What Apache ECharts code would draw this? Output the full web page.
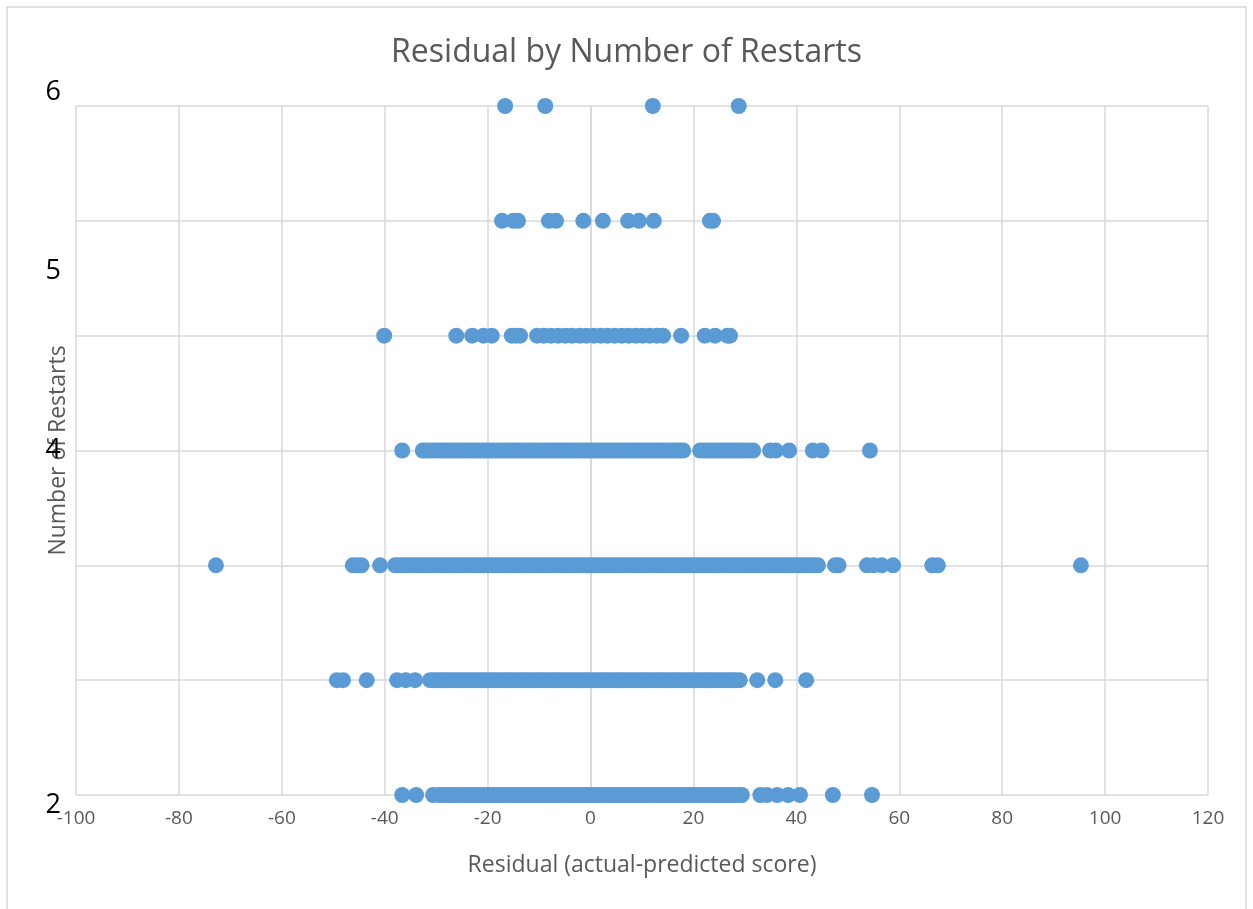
<!DOCTYPE html>
<html>
<head>
<meta charset="utf-8">
<script src="https://cdn.jsdelivr.net/npm/echarts@6/dist/echarts.min.js"></script>
<style>
  html, body { margin: 0; padding: 0; background: #fff; }
  #chart { width: 1253px; height: 909px; }
</style>
</head>
<body>
<div id="chart"></div>
<script>
// residuals per restart count
const restarts0 = [-36.6, -33.9, -30.6,
  -29.5, -28.9, -28.2, -27.6, -26.9, -26.3, -25.5, -24.9, -24.2, -23.5, -22.9, -22.2, -21.6, -20.8, -20.1, -19.5,
  -18.8, -18.1, -17.5, -16.8, -16.2, -15.4, -14.8, -14.1, -13.5, -12.8, -12.1, -11.5, -10.8, -10.2, -9.5, -8.8,
  -8.2, -7.5, -6.9, -6.1, -5.5, -4.8, -4.2, -3.5, -2.8, -2.2, -1.5, -0.9, -0.2, 0.5, 1.1, 1.8, 2.4, 3.1, 3.8, 4.4,
  5.1, 5.7, 6.4, 7.1, 7.7, 8.4, 9.0, 9.7, 10.4, 11.0, 11.7, 12.3, 13.0, 13.7, 14.3, 15.0, 15.6, 16.3, 17.0, 17.6,
  18.3, 18.9, 19.6, 20.3, 20.9, 21.6, 22.2, 22.9, 23.6, 24.2, 24.9, 25.5, 26.2, 26.9, 27.5, 28.2, 28.8, 29.4,
  33.0, 34.3, 36.3, 38.4, 40.7, 47.1, 54.7];
const restarts1 = [-49.3, -48.1, -43.5, -37.6, -35.9, -34.1,
  -31.2, -30.5, -29.9, -29.2, -28.6, -27.9, -27.2, -26.6, -25.9, -25.3, -24.6, -23.9, -23.3, -22.6, -22.0, -21.3,
  -20.6, -20.0, -19.3, -18.7, -18.0, -17.3, -16.7, -16.0, -15.4, -14.7, -14.0, -13.4, -12.7, -12.1, -11.4, -10.7,
  -10.1, -9.4, -8.8, -8.1, -7.4, -6.8, -6.1, -5.5, -4.8, -4.1, -3.5, -2.8, -2.2, -1.5, -0.8, -0.2, 0.5, 1.1, 1.8,
  2.5, 3.1, 3.8, 4.4, 5.1, 5.8, 6.4, 7.1, 7.7, 8.4, 9.1, 9.7, 10.4, 11.0, 11.7, 12.4, 13.0, 13.7, 14.3, 15.0, 15.7,
  16.3, 17.0, 17.6, 18.3, 19.0, 19.6, 20.3, 20.9, 21.6, 22.3, 22.9, 23.6, 24.2, 24.9, 25.6, 26.2, 26.9, 27.5, 28.2,
  29.0, 32.4, 35.9, 41.9];
const restarts2 = [-72.8, -46.2, -45.4, -44.5, -40.9,
  -38.0, -37.3, -36.6, -36.0, -35.3, -34.6, -34.0, -33.3, -32.6, -32.0, -31.3, -30.6, -30.0, -29.3, -28.6, -28.0,
  -27.3, -26.6, -26.0, -25.3, -24.6, -24.0, -23.3, -22.6, -22.0, -21.3, -20.6, -20.0, -19.3, -18.6, -18.0, -17.3,
  -16.6, -16.0, -15.3, -14.6, -14.0, -13.3, -12.6, -12.0, -11.3, -10.6, -10.0, -9.3, -8.6, -8.0, -7.3, -6.6, -6.0,
  -5.3, -4.6, -4.0, -3.3, -2.6, -2.0, -1.3, -0.6, 0.0, 0.7, 1.4, 2.0, 2.7, 3.4, 4.0, 4.7, 5.4, 6.0, 6.7, 7.4, 8.0,
  8.7, 9.4, 10.0, 10.7, 11.4, 12.0, 12.7, 13.4, 14.0, 14.7, 15.4, 16.0, 16.7, 17.4, 18.0, 18.7, 19.4, 20.0, 20.7,
  21.4, 22.0, 22.7, 23.4, 24.0, 24.7, 25.4, 26.0, 26.7, 27.4, 28.0, 28.7, 29.4, 30.0, 30.7, 31.4, 32.0, 32.7, 33.4,
  34.0, 34.7, 35.4, 36.0, 36.7, 37.4, 38.0, 38.7, 39.4, 40.0, 40.7, 41.4, 42.0, 42.7, 43.4, 44.2,
  47.5, 48.2, 53.7, 55.0, 56.6, 58.8, 66.4, 67.5, 95.3];
const restarts3 = [-36.6,
  -32.6, -31.9, -31.2, -30.6, -29.9, -29.2, -28.6, -27.9, -27.2, -26.6, -25.9, -25.2, -24.6, -23.9, -23.2, -22.6,
  -21.9, -21.2, -20.6, -19.9, -19.2, -18.6, -17.9, -17.2, -16.6, -15.9, -15.2, -14.6, -13.9, -13.2, -12.6, -11.9,
  -11.2, -10.6, -9.9, -9.2, -8.6, -7.9, -7.2, -6.6, -5.9, -5.2, -4.6, -3.9, -3.2, -2.6, -1.9, -1.2, -0.6, 0.1, 0.8,
  1.4, 2.1, 2.8, 3.4, 4.1, 4.8, 5.4, 6.1, 6.8, 7.4, 8.1, 8.8, 9.4, 10.1, 10.8, 11.4, 12.1, 12.8, 13.4, 14.1, 14.8,
  15.4, 16.1, 16.8, 17.4, 18.0,
  21.3, 22.0, 22.7, 23.4, 24.0, 24.7, 25.4, 26.0, 26.7, 27.4, 28.0, 28.7, 29.4, 30.0, 30.8, 31.6,
  34.9, 36.0, 38.6, 43.2, 44.9, 54.3];
const restarts4 = [-40.1, -26.1, -23.0, -20.8, -19.2, -15.3, -14.5, -13.7, -10.4, -9.1, -7.7, -6.3, -4.9, -3.6, -2.1,
  -0.8, 0.6, 2.0, 3.3, 4.7, 6.1, 7.4, 8.8, 10.1, 11.5, 12.9, 14.1, 17.6, 22.2, 24.2, 26.6, 27.1];
const restarts5 = [-17.2, -15.0, -14.1, -8.1, -6.7, -1.4, 2.4, 7.3, 9.4, 12.3, 23.2, 23.8];
const restarts6 = [-16.6, -8.8, 12.1, 28.8];
const rows = [restarts0, restarts1, restarts2, restarts3, restarts4, restarts5, restarts6];

// the loose y labels that sit on the left edge, and the level each one sits at
const yTickLabels = ['6', '5', '4', '2'];
const yTickLevels = [6.12, 4.56, 3.0, -0.09];

const points = [];
rows.forEach((vals, level) => vals.forEach((v) => points.push([v, level])));

const FONT = '"Open Sans"';
const chart = echarts.init(document.getElementById('chart'));

chart.setOption({
  animation: false,
  textStyle: { fontFamily: FONT },
  title: {
    text: 'Residual by Number of Restarts',
    left: 'center',
    top: 32,
    textStyle: { color: '#595959', fontSize: 32, fontWeight: 'normal', fontFamily: FONT },
  },
  grid: { left: 76, right: 45, top: 106, bottom: 114 },
  xAxis: {
    type: 'value',
    min: -100,
    max: 120,
    interval: 20,
    name: 'Residual (actual-predicted score)',
    nameLocation: 'middle',
    nameGap: 59,
    nameTextStyle: { color: '#595959', fontSize: 23, fontFamily: FONT },
    axisLine: { show: false },
    axisTick: { show: false },
    axisLabel: { color: '#595959', fontSize: 19, margin: 14, fontFamily: FONT },
    splitLine: { show: true, lineStyle: { color: '#D9D9D9', width: 1.5 } },
  },
  yAxis: {
    type: 'value',
    min: 0,
    max: 6,
    interval: 1,
    name: 'Number of Restarts',
    nameLocation: 'middle',
    nameGap: 6,
    nameTextStyle: { color: '#595959', fontSize: 23, fontFamily: FONT },
    axisLine: { show: true, lineStyle: { color: '#D9D9D9', width: 1.5 } },
    axisTick: { show: false },
    axisLabel: { show: false },
    splitLine: { show: true, lineStyle: { color: '#D9D9D9', width: 1.5 } },
  },
  series: [
    {
      type: 'scatter',
      data: points,
      symbolSize: 16,
      itemStyle: { color: '#5B9BD5', opacity: 1 },
    },
  ],
});

const labelGraphics = yTickLabels.map((t, i) => {
  const p = chart.convertToPixel({ gridIndex: 0 }, [-100, yTickLevels[i]]);
  return {
    type: 'text',
    x: 61,
    y: p[1],
    style: { text: t, fill: '#000', font: '27px ' + FONT, textAlign: 'right', textVerticalAlign: 'middle' },
    z: 10,
  };
});

chart.setOption({
  graphic: [
    {
      type: 'rect',
      shape: { x: 7, y: 7, width: 1239, height: 1000 },
      style: { fill: 'none', stroke: '#D9D9D9', lineWidth: 1.5 },
      silent: true,
    },
    ...labelGraphics,
  ],
});
</script>
</body>
</html>
